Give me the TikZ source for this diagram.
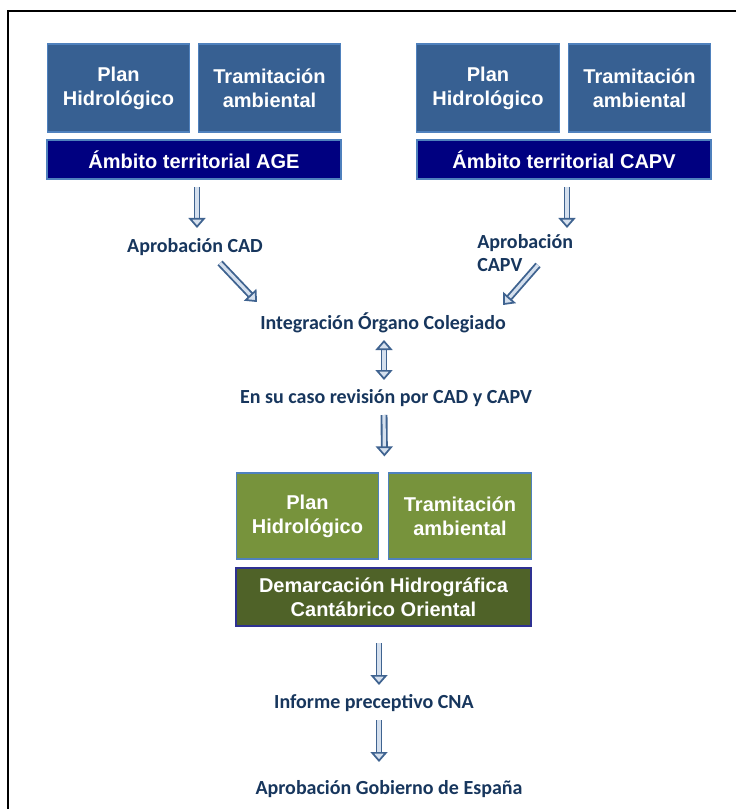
\documentclass[tikz,border=0pt]{standalone}
\usepackage{fontspec}
\setmainfont{Liberation Sans}
\newfontfamily\calibri{Carlito}
\usetikzlibrary{arrows.meta,calc}
\definecolor{azulcaja}{HTML}{376092}
\definecolor{bordeazul}{HTML}{4F81BD}
\definecolor{marino}{HTML}{000080}
\definecolor{verde}{HTML}{77933C}
\definecolor{verdeosc}{HTML}{4F6228}
\definecolor{bordeosc}{HTML}{2E3192}
\definecolor{texto}{HTML}{17365D}
\definecolor{flechaazul}{HTML}{3F6390}
\definecolor{flechaclaro}{HTML}{D5E0EE}

\begin{document}
\begin{tikzpicture}[x=0.75pt,y=-0.75pt,
caja/.style={draw=bordeazul,line width=0.9pt,fill=azulcaja,text=white,align=center,
  font=\bfseries\fontsize{15}{18}\selectfont,minimum width=107pt,minimum height=66pt,inner sep=0pt},
ambito/.style={caja,fill=marino,minimum width=220.5pt,minimum height=29.25pt},
verdecaja/.style={caja,fill=verde,minimum height=64.5pt},
dem/.style={caja,fill=verdeosc,draw=bordeosc,minimum width=221.25pt,minimum height=43.5pt},
etiqueta/.style={text=texto,font=\calibri\bfseries\fontsize{15}{17.25}\selectfont,inner sep=0pt},
punta/.tip={Triangle[length=7.5pt,width=12.75pt,fill=flechaclaro,line width=1.3pt]},
flecha/.style={draw=flechaazul,line width=1.4pt,double=flechaclaro,double distance=2.4pt,-punta}]
\useasboundingbox (0,0) rectangle (736,809);
\draw[line width=1.5pt] (736,11) -- (8,11) -- (8,809);
\draw
(118.5,88) node[caja](plan1){Plan\\Hidrológico}
(269.5,88) node[caja](tram1){Tramitación\\ambiental}
(194,159.5) node[ambito](age){Ámbito territorial AGE}
(488,88) node[caja](plan2){Plan\\Hidrológico}
(639.5,88) node[caja](tram2){Tramitación\\ambiental}
(564,159.5) node[ambito](capvamb){Ámbito territorial CAPV}
(195,247) node[etiqueta](cad){Aprobación CAD}
(477,253.5) node[etiqueta,anchor=west,align=left](capv){Aprobación\\CAPV}
(383,323) node[etiqueta](org){Integración Órgano Colegiado}
(386,398) node[etiqueta](rev){En su caso revisión por CAD y CAPV}
(307.5,516) node[verdecaja](plan3){Plan\\Hidrológico}
(460,516) node[verdecaja](tram3){Tramitación\\ambiental}
(383.5,597) node[dem](dem){Demarcación Hidrográfica\\Cantábrico Oriental}
(374,703) node[etiqueta](cna){Informe preceptivo CNA}
(389,789) node[etiqueta](gob){Aprobación Gobierno de España}
;
\foreach \a/\ax/\ay/\b/\bx/\by in {age/3/27.5/cad/2/-19, capvamb/3/27.5/capv.west/90/-25.5,
cad/25/16/org/-126/-21, capv.west/61/11.5/org/120/-18, rev/-2/17/plan3.north east/5/-16,
dem/-4.5/46/cna/5/-18, cna/5/17/gob/-10/-27}{
\draw[flecha]($(\a)+(\ax,\ay)$)--($(\b)+(\bx,\by)$);
}
\draw[flecha,punta-punta]($(org)+(1,17)$)--($(rev)+(-2,-18)$);
\end{tikzpicture}
\end{document}
